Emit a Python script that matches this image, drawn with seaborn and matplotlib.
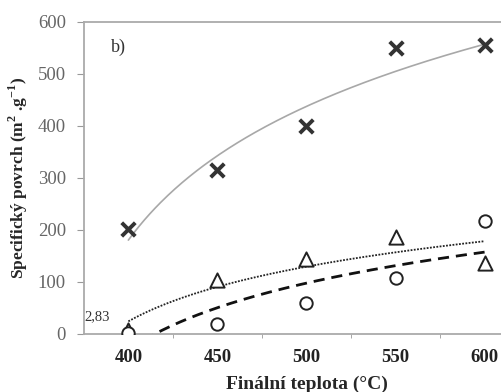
import matplotlib
matplotlib.use("Agg")
import matplotlib.pyplot as plt
import numpy as np
import pandas as pd
import seaborn as sns

# ----- data
teploty = [400, 450, 500, 550, 600]
povrch_x = [202, 315, 400, 550, 556]      # crosses
povrch_tri = [8, 104, 144, 187, 137]      # triangles
povrch_circ = [2.83, 19, 60, 108, 217]    # circles

# excel style category axis -> positions 1..5
pos = np.arange(1, len(teploty) + 1)


def log_trend(y):
    # logarithmic trendline over the category index, like excel
    a, b = np.polyfit(np.log(pos), y, 1)
    xs = np.linspace(1, len(pos), 200)
    return pd.DataFrame({"x": xs, "y": a * np.log(xs) + b})


sns.set_style("ticks")
plt.rcParams["font.family"] = ["Liberation Serif", "DejaVu Serif"]
plt.rcParams["mathtext.fontset"] = "custom"
plt.rcParams["mathtext.rm"] = "Liberation Serif"
plt.rcParams["mathtext.bf"] = "Liberation Serif:bold"

fig = plt.figure(figsize=(5.02, 3.92), dpi=100)
ax = fig.add_axes([0.167, 0.148, 0.887, 0.796])

# trendlines
t = log_trend(povrch_x)
sns.lineplot(data=t, x="x", y="y", ax=ax, color="#a8a8a8", linewidth=1.2)
t = log_trend(povrch_tri)
sns.lineplot(data=t, x="x", y="y", ax=ax, color="#222222", linewidth=1.3,
             linestyle=(0, (1, 0.8)))
t = log_trend(povrch_circ)
sns.lineplot(data=t, x="x", y="y", ax=ax, color="#111111", linewidth=2.0,
             linestyle=(0, (4, 2.5)))

# points
sns.scatterplot(x=pos, y=povrch_x, ax=ax, marker="x", s=95, color="#333333",
                linewidth=2.8, zorder=5)
sns.scatterplot(x=pos, y=povrch_tri, ax=ax, marker="^", s=105, facecolor="white",
                edgecolor="#222222", linewidth=1.4, zorder=5)
sns.scatterplot(x=pos, y=povrch_circ, ax=ax, marker="o", s=80, facecolor="white",
                edgecolor="#222222", linewidth=1.4, zorder=6)

ax.set_xlim(0.5, 5.5)
ax.set_ylim(0, 600)
ax.set_xticks(pos)
ax.set_xticklabels([str(v) for v in teploty], fontweight="bold", fontsize=13.5,
                   color="#222222")
ax.set_xticks(np.arange(1.5, 5.5, 1), minor=True)
ax.tick_params(axis="x", which="major", length=0, pad=11)
ax.tick_params(axis="x", which="minor", length=3, color="#999999")
ax.set_yticks(np.arange(0, 601, 100))
ax.tick_params(axis="y", length=5, color="#999999", labelsize=13.5,
               labelcolor="#666666", pad=8)

for s in ["left", "bottom", "top", "right"]:
    ax.spines[s].set_color("#aaaaaa")
    ax.spines[s].set_linewidth(1.3)

ax.set_xlabel("Finální teplota (°C)", fontweight="bold", fontsize=14)
ax.set_ylabel("Specifický povrch (m$^\\mathbf{2}$ .g$^\\mathbf{-1}$)",
              fontweight="bold", fontsize=12.5)
ax.yaxis.set_label_coords(-0.122, 0.5)
ax.xaxis.set_label_coords(0.5, -0.135)

ax.text(0.8, 552, "b)", fontsize=13, color="#333333", va="center")
ax.text(0.51, 33, "2,83", fontsize=10.5, color="#333333", va="center")

fig.savefig("out.png", dpi=100, facecolor="white")
